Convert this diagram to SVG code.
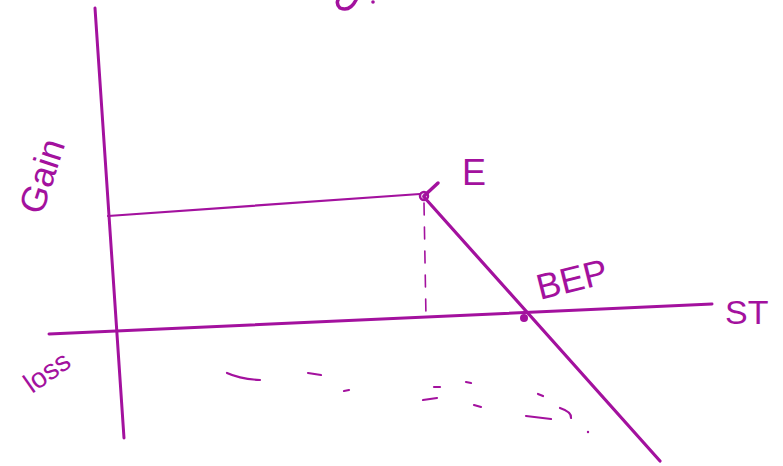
<svg xmlns="http://www.w3.org/2000/svg" width="783" height="466" viewBox="0 0 783 466">
<style>
.ln{stroke:#a3119e;fill:none;stroke-linecap:round}
.t{fill:#a3119e;font-family:"Liberation Sans",Arial,sans-serif}
</style>
<rect width="783" height="466" fill="#fff"/>
<g id="connectors">
<line class="ln" x1="95" y1="8" x2="124" y2="438" stroke-width="3"/>
<line class="ln" x1="49" y1="334" x2="712" y2="304" stroke-width="3"/>
<line class="ln" x1="108" y1="216" x2="420" y2="194" stroke-width="2.2"/>
<line class="ln" x1="424" y1="197" x2="660" y2="461" stroke-width="3.2"/>
<line class="ln" x1="424" y1="203" x2="426" y2="318" stroke-width="1.6" stroke-dasharray="12 12"/>
<path class="ln" d="M424 196 L438 183" stroke-width="3.5"/>
<g stroke-width="2.2">
<path class="ln" d="M227 373 Q240 379 260 380"/>
<path class="ln" d="M308 373 L321 375"/>
<path class="ln" d="M344 391 L349 390"/>
<path class="ln" d="M434 387 L440 387"/>
<path class="ln" d="M423 400 L437 398"/>
<path class="ln" d="M466 382 L471 383"/>
<path class="ln" d="M474 405 L481 407"/>
<path class="ln" d="M538 394 L543 396"/>
<path class="ln" d="M526 416 L551 419"/>
<path class="ln" d="M560 408 Q572 412 571 418"/>
<circle cx="588" cy="432" r="1.2" fill="#a3119e"/>
</g>
<path class="ln" d="M356 0 Q350 12 340 8 Q336 4 338 0" stroke-width="3.5"/>
<circle cx="373" cy="2" r="1.8" fill="#a3119e"/>
</g>
<g id="E-point"><circle cx="424" cy="196" r="4" fill="none" stroke="#a3119e" stroke-width="2.5"/></g>
<g id="BEP-point"><circle cx="524" cy="318" r="4" fill="#a3119e"/></g>
<g id="labels">
<text class="t" font-size="36" transform="translate(42,216) rotate(-72)">Gain</text>
<text class="t" font-size="28" transform="translate(32,394) rotate(-35)">loss</text>
<text class="t" font-size="36" x="462" y="185">E</text>
<text class="t" font-size="36" transform="translate(540,300) rotate(-14)">BEP</text>
<text class="t" font-size="34" x="725" y="324">ST</text>
</g>
</svg>
